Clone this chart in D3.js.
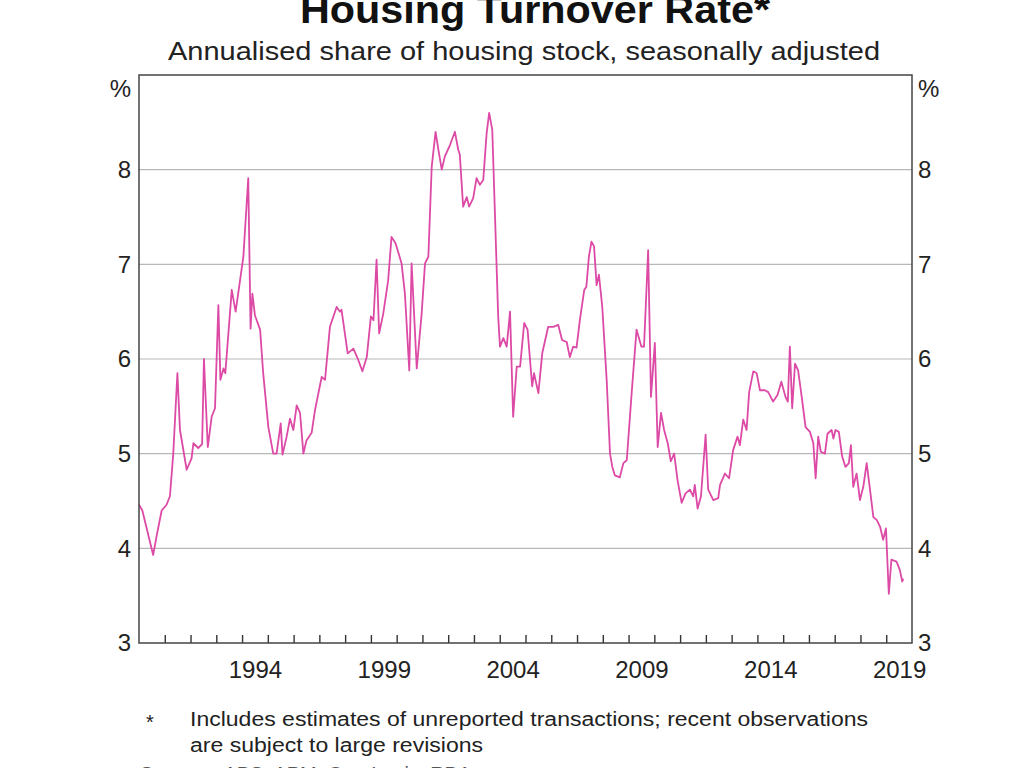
<!DOCTYPE html>
<html>
<head>
<meta charset="utf-8">
<script src="https://cdn.jsdelivr.net/npm/d3@7"></script>
<style>
  html, body { margin: 0; padding: 0; background: #fff; }
  svg { display: block; font-family: "Liberation Sans", Arial, sans-serif; }
</style>
</head>
<body>
<svg id="chart" width="1024" height="768"></svg>
<script>
// ---- Data ----
const dates = [
  1990.00, 1990.13, 1990.55, 1990.69, 1990.88, 1991.07, 1991.20, 1991.33, 1991.49, 1991.59,
  1991.85, 1992.04, 1992.11, 1992.30, 1992.45, 1992.52, 1992.67, 1992.82, 1992.95, 1993.08,
  1993.16, 1993.28, 1993.35, 1993.60, 1993.75, 1994.05, 1994.24, 1994.33, 1994.40, 1994.50,
  1994.70, 1994.82, 1995.02, 1995.21, 1995.34, 1995.50, 1995.57, 1995.73, 1995.86, 1995.99,
  1996.12, 1996.25, 1996.38, 1996.50, 1996.70, 1996.83, 1997.09, 1997.22, 1997.41, 1997.67,
  1997.80, 1997.86, 1998.10, 1998.32, 1998.51, 1998.67, 1998.84, 1999.00, 1999.10, 1999.22,
  1999.32, 1999.48, 1999.67, 1999.80, 1999.96, 2000.19, 2000.32, 2000.49, 2000.58, 2000.78,
  2000.97, 2001.10, 2001.23, 2001.36, 2001.51, 2001.62, 2001.75, 2001.87, 2002.07, 2002.26,
  2002.39, 2002.45, 2002.58, 2002.72, 2002.81, 2002.97, 2003.10, 2003.23, 2003.36, 2003.49,
  2003.59, 2003.71, 2003.81, 2003.94, 2004.01, 2004.14, 2004.27, 2004.40, 2004.52, 2004.66,
  2004.79, 2004.95, 2005.08, 2005.26, 2005.33, 2005.50, 2005.65, 2005.88, 2006.08, 2006.27,
  2006.42, 2006.60, 2006.72, 2006.85, 2006.98, 2007.11, 2007.28, 2007.36, 2007.46, 2007.56,
  2007.66, 2007.76, 2007.85, 2007.98, 2008.15, 2008.28, 2008.37, 2008.47, 2008.66, 2008.80,
  2008.93, 2009.12, 2009.31, 2009.50, 2009.60, 2009.76, 2009.87, 2010.02, 2010.13, 2010.26,
  2010.38, 2010.52, 2010.64, 2010.77, 2010.90, 2011.06, 2011.21, 2011.38, 2011.51, 2011.57,
  2011.68, 2011.81, 2011.99, 2012.09, 2012.29, 2012.48, 2012.55, 2012.74, 2012.90, 2013.06,
  2013.23, 2013.32, 2013.45, 2013.58, 2013.68, 2013.84, 2013.97, 2014.10, 2014.29, 2014.42,
  2014.61, 2014.78, 2014.93, 2015.09, 2015.18, 2015.26, 2015.35, 2015.46, 2015.58, 2015.72,
  2015.87, 2016.04, 2016.17, 2016.26, 2016.36, 2016.46, 2016.62, 2016.72, 2016.88, 2016.95,
  2017.03, 2017.16, 2017.29, 2017.42, 2017.55, 2017.63, 2017.72, 2017.85, 2017.98, 2018.11,
  2018.24, 2018.37, 2018.50, 2018.63, 2018.76, 2018.88, 2018.99, 2019.10, 2019.20, 2019.40,
  2019.53, 2019.62, 2019.66
];
const turnover = [
  4.46, 4.40, 3.93, 4.14, 4.40, 4.46, 4.55, 5.00, 5.85, 5.25,
  4.83, 4.95, 5.11, 5.06, 5.10, 6.00, 5.07, 5.39, 5.48, 6.57,
  5.78, 5.90, 5.85, 6.73, 6.50, 7.08, 7.91, 6.32, 6.69, 6.46,
  6.31, 5.85, 5.28, 5.00, 5.00, 5.32, 4.99, 5.18, 5.37, 5.25,
  5.51, 5.43, 5.00, 5.14, 5.22, 5.46, 5.81, 5.78, 6.34, 6.55,
  6.50, 6.52, 6.06, 6.11, 5.99, 5.87, 6.02, 6.45, 6.41, 7.05,
  6.27, 6.48, 6.83, 7.29, 7.22, 7.01, 6.69, 5.88, 7.01, 5.90,
  6.48, 7.01, 7.08, 8.03, 8.40, 8.21, 8.00, 8.14, 8.26, 8.40,
  8.21, 8.16, 7.61, 7.71, 7.61, 7.70, 7.91, 7.84, 7.89, 8.38,
  8.60, 8.42, 7.57, 6.45, 6.13, 6.22, 6.13, 6.50, 5.39, 5.92,
  5.92, 6.38, 6.31, 5.71, 5.85, 5.64, 6.06, 6.34, 6.34, 6.36,
  6.20, 6.18, 6.02, 6.13, 6.12, 6.41, 6.73, 6.76, 7.08, 7.24,
  7.19, 6.78, 6.89, 6.55, 5.78, 5.00, 4.86, 4.77, 4.75, 4.90,
  4.93, 5.64, 6.31, 6.13, 6.13, 7.15, 5.60, 6.17, 5.07, 5.43,
  5.25, 5.11, 4.92, 5.00, 4.72, 4.48, 4.58, 4.62, 4.55, 4.67,
  4.42, 4.55, 5.20, 4.62, 4.51, 4.53, 4.67, 4.79, 4.74, 5.04,
  5.18, 5.09, 5.36, 5.25, 5.65, 5.87, 5.85, 5.67, 5.67, 5.65,
  5.55, 5.62, 5.76, 5.60, 5.55, 6.13, 5.48, 5.95, 5.88, 5.60,
  5.28, 5.23, 5.11, 4.74, 5.18, 5.02, 5.00, 5.21, 5.25, 5.16,
  5.25, 5.23, 4.97, 4.86, 4.90, 5.09, 4.65, 4.79, 4.51, 4.65,
  4.90, 4.62, 4.33, 4.30, 4.23, 4.09, 4.21, 3.52, 3.88, 3.86,
  3.77, 3.65, 3.68
];
const yTicks = [3, 4, 5, 6, 7, 8];
const yearLabels = [1994, 1999, 2004, 2009, 2014, 2019];
const yearTicks = d3.range(1991, 2020);

const titleText = "Housing Turnover Rate*";
const subtitleText = "Annualised share of housing stock, seasonally adjusted";
const noteLines = [
  "Includes estimates of unreported transactions; recent observations",
  "are subject to large revisions"
];
const sourceText = "Sources: ABS; APM; CoreLogic; RBA";

// ---- Layout ----
const svg = d3.select("#chart");
const pLeft = 139, pRight = 912, pTop = 75, pBottom = 643;

const x = d3.scaleLinear().domain([1990, 2020]).range([pLeft, pRight]);
const y = d3.scaleLinear().domain([3, 9]).range([pBottom, pTop]);

const textCol = "#222";

// Title and subtitle
svg.append("text")
  .attr("x", 535).attr("y", 23)
  .attr("text-anchor", "middle")
  .attr("font-size", 38).attr("font-weight", "bold")
  .attr("fill", "#111")
  .attr("textLength", 470).attr("lengthAdjust", "spacingAndGlyphs")
  .text(titleText);

svg.append("text")
  .attr("x", 524).attr("y", 60)
  .attr("text-anchor", "middle")
  .attr("font-size", 26)
  .attr("fill", textCol)
  .attr("textLength", 712).attr("lengthAdjust", "spacingAndGlyphs")
  .text(subtitleText);

// Gridlines
svg.append("g")
  .selectAll("line")
  .data(yTicks.filter(d => d > 3))
  .join("line")
  .attr("x1", pLeft).attr("x2", pRight)
  .attr("y1", d => y(d)).attr("y2", d => y(d))
  .attr("stroke", "#b8b8b8").attr("stroke-width", 1.2);

// Left axis labels
const leftAxis = d3.axisLeft(y).tickValues(yTicks).tickSize(0).tickPadding(8).tickFormat(d3.format("d"));
const gl = svg.append("g").attr("transform", `translate(${pLeft},0)`).call(leftAxis);
gl.select(".domain").remove();
gl.selectAll("text").attr("font-size", 24).attr("fill", textCol)
  .attr("font-family", "'Liberation Sans', Arial, sans-serif");

// Right axis labels
const rightAxis = d3.axisRight(y).tickValues(yTicks).tickSize(0).tickPadding(6).tickFormat(d3.format("d"));
const gr = svg.append("g").attr("transform", `translate(${pRight},0)`).call(rightAxis);
gr.select(".domain").remove();
gr.selectAll("text").attr("font-size", 24).attr("fill", textCol)
  .attr("font-family", "'Liberation Sans', Arial, sans-serif");

// % unit labels
svg.append("text").attr("x", pLeft - 8).attr("y", 97).attr("text-anchor", "end")
  .attr("font-size", 24).attr("fill", textCol).text("%");
svg.append("text").attr("x", pRight + 6).attr("y", 97).attr("text-anchor", "start")
  .attr("font-size", 24).attr("fill", textCol).text("%");

// Bottom year ticks (inside, pointing up)
const xTickAxis = d3.axisBottom(x).tickValues(yearTicks).tickSize(-8).tickFormat("");
const gt = svg.append("g").attr("transform", `translate(0,${pBottom})`).call(xTickAxis);
gt.select(".domain").remove();
gt.selectAll("line").attr("stroke", "#333").attr("stroke-width", 1.4);

// Year labels centred mid-year
const xLabelAxis = d3.axisBottom(x).tickValues(yearLabels.map(d => d + 0.5)).tickSize(0).tickPadding(18)
  .tickFormat(d => String(Math.floor(d)));
const gx = svg.append("g").attr("transform", `translate(0,${pBottom})`).call(xLabelAxis);
gx.select(".domain").remove();
gx.selectAll("text").attr("font-size", 24).attr("fill", textCol)
  .attr("font-family", "'Liberation Sans', Arial, sans-serif");

// Data line
const data = dates.map((d, i) => ({ t: d, v: turnover[i] }));
const line = d3.line().x(d => x(d.t)).y(d => y(d.v)).curve(d3.curveLinear);
svg.append("path")
  .datum(data)
  .attr("d", line)
  .attr("fill", "none")
  .attr("stroke", "#dc4aa6")
  .attr("stroke-width", 1.8)
  .attr("stroke-linejoin", "round");

// Frame
svg.append("rect")
  .attr("x", pLeft).attr("y", pTop)
  .attr("width", pRight - pLeft).attr("height", pBottom - pTop)
  .attr("fill", "none").attr("stroke", "#444").attr("stroke-width", 1.5);

// Footnote
svg.append("text").attr("x", 146).attr("y", 729).attr("font-size", 20).attr("fill", textCol).text("*");
svg.append("g").selectAll("text")
  .data(noteLines)
  .join("text")
  .attr("x", 190)
  .attr("y", (d, i) => 726 + i * 26)
  .attr("font-size", 20)
  .attr("fill", textCol)
  .attr("textLength", (d, i) => i === 0 ? 678 : 293)
  .attr("lengthAdjust", "spacingAndGlyphs")
  .text(d => d);

// Sources line (mostly cut off at bottom edge)
svg.append("text").attr("x", 140).attr("y", 781).attr("font-size", 20).attr("fill", "#555").text(sourceText);
</script>
</body>
</html>
